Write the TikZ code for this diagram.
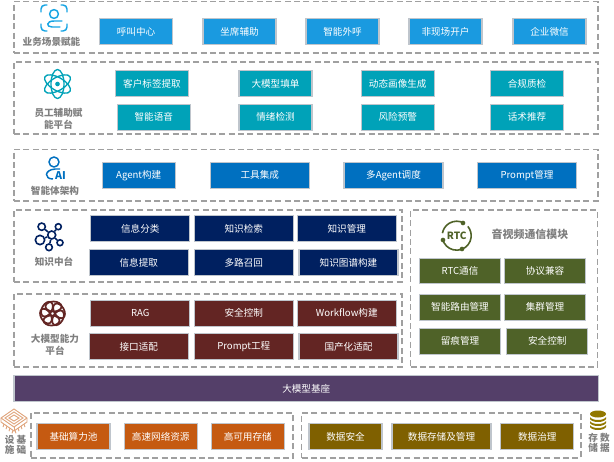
\documentclass[tikz,border=0pt]{standalone}
\usepackage{fontspec}
\setmainfont{Noto Sans CJK SC}
\usepackage{xcolor}
\usetikzlibrary{positioning}
\definecolor{clscene}{HTML}{1A9AE0}
\definecolor{clstaff}{HTML}{00A2B8}
\definecolor{clagent}{HTML}{0070C0}
\definecolor{clknow}{HTML}{002060}
\definecolor{clmodel}{HTML}{632523}
\definecolor{clrtc}{HTML}{4F6228}
\definecolor{clbase}{HTML}{543F69}
\definecolor{clinfra}{HTML}{C55A11}
\definecolor{cldata}{HTML}{7F6000}
\definecolor{cledge}{HTML}{BFC5CC}
\definecolor{cldash}{HTML}{A0A0A0}
\definecolor{cllabel}{HTML}{7F7F7F}
\tikzstyle{container} = [rectangle, draw=cldash, line width=.8pt, dash pattern=on 4.5pt off 2.5pt]
\tikzstyle{block} = [rectangle, draw=cledge, line width=.8pt, text=white, font=\fontsize{7.2}{9}\selectfont, inner sep=0pt, minimum height=19.2pt]
\tikzstyle{smallblock} = [block, minimum width=54.75pt]
\tikzstyle{midblock} = [block, minimum width=60.75pt]
\tikzstyle{bigblock} = [block, minimum width=74.25pt]
\tikzstyle{sidelabel} = [text=cllabel, font=\fontsize{7.2}{9}\bfseries\selectfont, align=center, inner sep=0pt]
\tikzstyle{cornerlabel} = [sidelabel, font=\fontsize{7.2}{7.8}\bfseries\selectfont]
\begin{document}
\begin{tikzpicture}[x=.75pt, y=-.75pt]
    \useasboundingbox (0,0) rectangle (614,461);

    \node [container, minimum width=438pt, minimum height=38.6pt] (scenepanel) at (306,27.25) {};
    \node [container, minimum width=438pt, minimum height=54pt] (staffpanel) at (306,98) {};
    \node [container, minimum width=438pt, minimum height=38.6pt] (agentpanel) at (306,175.25) {};
    \node [container, minimum width=291pt, minimum height=54pt] (knowpanel) at (208,246) {};
    \node [container, minimum width=291pt, minimum height=54.75pt] (modelpanel) at (208,330.5) {};
    \node [container, minimum width=140.25pt, minimum height=117.75pt] (rtcpanel) at (504,288.5) {};
    \node [container, minimum width=196.5pt, minimum height=33.75pt] (infrapanel) at (162,435.5) {};
    \node [container, minimum width=209.6pt, minimum height=33.75pt] (datapanel) at (441.25,435.5) {};

    \node [smallblock, fill=clscene] (call) at (136,31.5) {呼叫中心};
    \node [smallblock, fill=clscene] (seat) at (239.5,31.5) {坐席辅助};
    \node [smallblock, fill=clscene] (outbound) at (342.5,31.5) {智能外呼};
    \node [smallblock, fill=clscene] (remote) at (445.5,31.5) {非现场开户};
    \node [smallblock, fill=clscene] (wechat) at (549.5,31.5) {企业微信};

    \node [smallblock, fill=clstaff] (tags) at (152,83.5) {客户标签提取};
    \node [smallblock, fill=clstaff] (form) at (275.5,83.5) {大模型填单};
    \node [smallblock, fill=clstaff] (profile) at (397.75,83.5) {动态画像生成};
    \node [smallblock, fill=clstaff] (quality) at (527,83.5) {合规质检};
    \node [smallblock, fill=clstaff] (voice) at (153.75,117.25) {智能语音};
    \node [smallblock, fill=clstaff] (mood) at (275.5,117.25) {情绪检测};
    \node [smallblock, fill=clstaff] (risk) at (397.75,117.25) {风险预警};
    \node [smallblock, fill=clstaff] (script) at (527,117.25) {话术推荐};

    \node [smallblock, fill=clagent] (agentbuild) at (138.75,175.25) {Agent构建};
    \node [bigblock, fill=clagent] (tools) at (259.75,175.25) {工具集成};
    \node [bigblock, fill=clagent] (multi) at (393.5,175.25) {多Agent调度};
    \node [bigblock, fill=clagent] (prompt) at (527,175.25) {Prompt管理};

    \node [bigblock, fill=clknow] (classify) at (140.25,228.75) {信息分类};
    \node [bigblock, fill=clknow] (search) at (243.75,228.75) {知识检索};
    \node [bigblock, fill=clknow] (manage) at (346.75,228.75) {知识管理};
    \node [bigblock, fill=clknow] (extract) at (138.75,262.5) {信息提取};
    \node [bigblock, fill=clknow] (recall) at (243.75,262.5) {多路召回};
    \node [bigblock, fill=clknow] (graph) at (348.5,262.5) {知识图谱构建};

    \node [bigblock, fill=clmodel] (rag) at (140.25,313.25) {RAG};
    \node [bigblock, fill=clmodel] (safe) at (243.75,313.25) {安全控制};
    \node [bigblock, fill=clmodel] (workflow) at (346.75,313.25) {Workflow构建};
    \node [bigblock, fill=clmodel] (adapter) at (138.75,346.75) {接口适配};
    \node [bigblock, fill=clmodel] (prompteng) at (243.75,346.75) {Prompt工程};
    \node [bigblock, fill=clmodel] (local) at (348.5,346.75) {国产化适配};

    \node [midblock, fill=clrtc] (rtccomm) at (460,271) {RTC通信};
    \node [midblock, fill=clrtc] (protocol) at (545,271) {协议兼容};
    \node [midblock, fill=clrtc] (route) at (460,307.25) {智能路由管理};
    \node [midblock, fill=clrtc] (cluster) at (545,307.25) {集群管理};
    \node [midblock, fill=clrtc] (trace) at (460,341.25) {留痕管理};
    \node [midblock, fill=clrtc] (rtcsafe) at (547.25,341.25) {安全控制};

    \node [block, fill=clbase, minimum width=438.4pt] (base) at (306.25,388.5) {大模型基座};

    \node [smallblock, fill=clinfra] (compute) at (73.5,436.5) {基础算力池};
    \node [smallblock, fill=clinfra] (network) at (160.75,436.5) {高速网络资源};
    \node [smallblock, fill=clinfra] (storage) at (247.75,436.5) {高可用存储};
    \node [smallblock, fill=cldata] (datasafe) at (345.5,436.5) {数据安全};
    \node [bigblock, fill=cldata] (datastore) at (441.5,436.5) {数据存储及管理};
    \node [smallblock, fill=cldata] (datagov) at (537.25,436.5) {数据治理};

    \node [sidelabel] (scenelabel) at (51.5,42) {业务场景赋能};
    \node [sidelabel] (stafflabel) at (58.5,118.5) {员工辅助赋\\能平台};
    \node [sidelabel] (agentlabel) at (55,191) {智能体架构};
    \node [sidelabel] (knowlabel) at (54,262) {知识中台};
    \node [sidelabel] (modellabel) at (55,344.5) {大模型能力\\平台};
    \node [sidelabel, font=\fontsize{8.2}{9}\bfseries\selectfont] (rtclabel) at (530,234) {音视频通信模块};
    \node [cornerlabel] (infralabel) at (15.5,445) {设 基\\施 础};
    \node [cornerlabel] (datalabel) at (599,443) {存 数\\储 据};

    % scene icon
    \begin{scope}[clscene!90!cyan, line width=1.1pt, line cap=round]
    \draw (41,12) -- (41,9) arc (180:270:4) -- (47,5);
    \draw (61,5) -- (63,5) arc (270:360:4) -- (67,12);
    \draw (67,24) -- (67,27) arc (0:90:4) -- (61,31);
    \draw (47,31) -- (45,31) arc (90:180:4) -- (41,24);
    \node [draw, circle, minimum size=6.6pt, inner sep=0pt] (scenehead) at (54,14) {};
    \draw (62,21) -- (54,21) .. controls (46,21) and (46,27) .. (52,27) -- (60,27);
    \end{scope}

    % atom icon
    \begin{scope}[clstaff, line width=1pt]
    \foreach \ang in {30,90,150}
        \draw [rotate around={\ang:(57.5,84)}] (57.5,84) ellipse [x radius=14.5, y radius=6.5];
    \node [fill, circle, minimum size=3.5pt, inner sep=0pt] (nucleus) at (57.5,84) {};
    \end{scope}

    % agent icon
    \begin{scope}[clagent, line width=1.1pt]
    \node [draw, circle, minimum size=7.5pt, inner sep=0pt] (agenthead) at (54,162) {};
    \draw (60,169) -- (55,169) .. controls (44,170) and (44,179) .. (53,179);
    \node [inner sep=0pt, font=\fontsize{8}{9}\bfseries\selectfont] (ailabel) at (60.5,175.5) {AI};
    \end{scope}

    % knowledge icon
    \begin{scope}[clknow, line width=1.2pt]
    \node [draw, fill=white, circle, minimum size=6pt, inner sep=0pt] (hub) at (51.7,235) {};
    \node [draw, fill=white, circle, minimum size=5.5pt, inner sep=0pt] (leafa) at (41.7,226.7) {};
    \node [draw, fill=white, circle, minimum size=4.5pt, inner sep=0pt] (leafb) at (58.3,226.7) {};
    \node [draw, fill=white, circle, minimum size=7pt, inner sep=0pt] (leafc) at (40,240) {};
    \node [draw, fill=white, circle, minimum size=5pt, inner sep=0pt] (leafd) at (49,247.3) {};
    \node [draw, fill=white, circle, minimum size=4.5pt, inner sep=0pt] (leafe) at (60,242.7) {};
    \foreach \leaf in {leafa,leafb,leafc,leafd,leafe}
        \draw (hub) -- (\leaf);
    \end{scope}

    % model icon
    \begin{scope}[clmodel, line width=1.3pt]
    \foreach \ang in {0,60,...,300}
        \draw [rotate around={\ang:(52.5,313.5)}] (53.5,306.5) ellipse [x radius=8, y radius=5];
    \end{scope}

    % rtc icon
    \begin{scope}[clrtc, line width=1.2pt]
    \foreach \from/\to in {-60/-170,-195/-290,68/-40}
        \draw (456.7,235.7) ++(\from:14.5) arc (\from:\to:14.5);
    \node [fill, circle, minimum size=3.5pt, inner sep=0pt] (rtcdota) at (463,223) {};
    \node [fill, circle, minimum size=3.5pt, inner sep=0pt] (rtcdotb) at (443,240) {};
    \node [fill, circle, minimum size=3.5pt, inner sep=0pt] (rtcdotc) at (462,249) {};
    \node [inner sep=0pt, font=\fontsize{7.5}{9}\bfseries\selectfont] (rtcicon) at (456.7,236) {RTC};
    \end{scope}

    % chip icon
    \begin{scope}[clinfra!55!white, line width=.7pt]
    \foreach \off in {3,6,9,12} {
        \draw (1+\off,422+\off*.69) -- ++(-1,3);
        \draw (27-\off,422+\off*.69) -- ++(1,3);
    }
    \draw (14,409) -- (27,418) -- (27,422) -- (14,431) -- (1,422) -- (1,418) -- cycle;
    \draw (1,418) -- (14,427) -- (27,418);
    \draw (14,427) -- (14,431);
    \draw (14,412) -- (23,418) -- (14,424) -- (5,418) -- cycle;
    \draw (14,415) -- (19,418) -- (14,421) -- (9,418) -- cycle;
    \end{scope}

    % database icon
    \begin{scope}[cldata!85!yellow]
    \fill (598,414) ellipse [x radius=8, y radius=3.5];
    \foreach \lvl in {418,422,426}
        \fill (590,\lvl-1) .. controls (592,\lvl+3) and (604,\lvl+3) .. (606,\lvl-1) -- (606,\lvl+1) .. controls (604,\lvl+5) and (592,\lvl+5) .. (590,\lvl+1) -- cycle;
    \end{scope}
\end{tikzpicture}
\end{document}
